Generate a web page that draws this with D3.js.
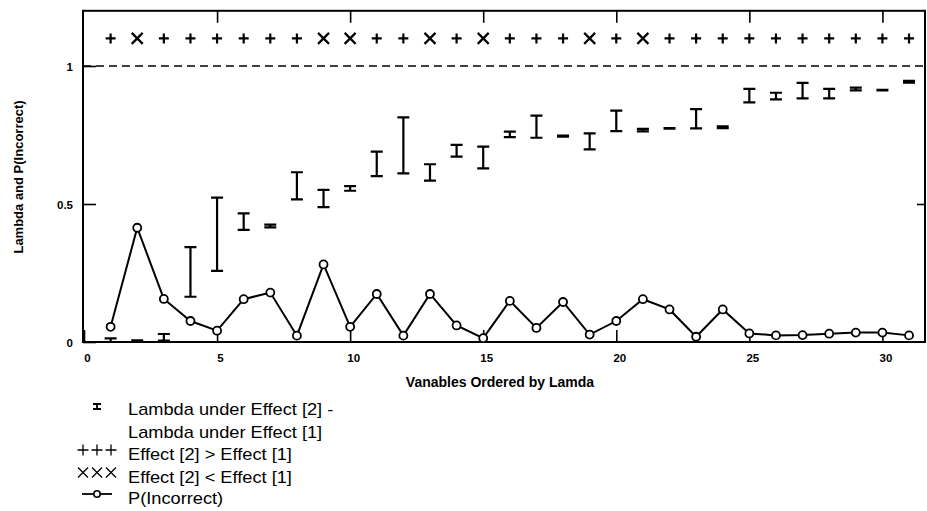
<!DOCTYPE html>
<html>
<head>
<meta charset="utf-8">
<script src="https://cdn.jsdelivr.net/npm/d3@7"></script>
<style>
  html, body { margin: 0; padding: 0; background: #fff; }
  svg { display: block; }
  text { font-family: "Liberation Sans", Arial, sans-serif; fill: #000; }
</style>
</head>
<body>
<svg id="chart" width="927" height="511"></svg>
<script>
// ---- data ----
const variables = d3.range(1, 32);
const lambdaLow  = [0.000,0.002,0.005,0.164,0.258,0.406,0.415,0.517,0.489,0.548,0.601,0.611,0.585,0.672,0.629,0.742,0.740,0.744,0.698,0.764,0.763,0.773,0.774,0.775,0.868,0.879,0.883,0.883,0.912,0.912,0.940];
const lambdaHigh = [0.013,0.006,0.029,0.344,0.523,0.466,0.425,0.615,0.551,0.565,0.690,0.814,0.644,0.714,0.708,0.762,0.820,0.748,0.756,0.838,0.772,0.775,0.844,0.781,0.917,0.903,0.939,0.917,0.922,0.914,0.946];
const pIncorrect = [0.055,0.414,0.156,0.076,0.041,0.155,0.179,0.023,0.281,0.055,0.174,0.023,0.174,0.060,0.014,0.149,0.051,0.145,0.027,0.076,0.155,0.118,0.019,0.118,0.031,0.024,0.025,0.030,0.034,0.034,0.024];
// "+" : Effect[2] > Effect[1], "x" : Effect[2] < Effect[1]
const effectSign = ["+","x","+","+","+","+","+","+","x","x","+","+","x","+","x","+","+","+","x","+","x","+","+","+","+","+","+","+","+","+","+"];
const signLevel = 1.1;
const refLevel = 1;
const xTicks = [0,5,10,15,20,25,30];
const yTicks = [0,0.5,1];
const yTickLabels = ["0","0.5","1"];
const xTitle = "Vanables Ordered by Lamda";
const yTitle = "Lambda and P(Incorrect)";
const legendLabels = [["Lambda under Effect [2] -","Lambda under Effect [1]"],["Effect [2] > Effect [1]"],["Effect [2] < Effect [1]"],["P(Incorrect)"]];

// ---- layout ----
const svg = d3.select("#chart");
const L = 83, R = 925, T = 10.8, B = 342;
const x = d3.scaleLinear().domain([0, 31.6]).range([84, 925]);
const y = d3.scaleLinear().domain([0, 1.2]).range([B, T]);

// frame
svg.append("rect").attr("x", L).attr("y", T).attr("width", R - L).attr("height", B - T)
  .attr("fill", "none").attr("stroke", "#000").attr("stroke-width", 2);

// axes ticks (inward)
const tickFmt = (d, i) => yTickLabels[i];
const gB = svg.append("g").attr("transform", `translate(0,${B})`)
  .call(d3.axisBottom(x).tickValues(xTicks).tickSize(-12).tickPadding(12).tickFormat(d3.format("d")));
const gT = svg.append("g").attr("transform", `translate(0,${T})`)
  .call(d3.axisTop(x).tickValues(xTicks.filter(d => d > 0)).tickSize(-12).tickFormat(""));
const gL = svg.append("g").attr("transform", `translate(${L},0)`)
  .call(d3.axisLeft(y).tickValues(yTicks).tickSize(-13).tickPadding(10).tickFormat(tickFmt));
const gR = svg.append("g").attr("transform", `translate(${R},0)`)
  .call(d3.axisRight(y).tickValues([0.5]).tickSize(-8).tickFormat(""));
[gB, gT, gL, gR].forEach(g => {
  g.select(".domain").remove();
  g.selectAll(".tick line").attr("stroke", "#000").attr("stroke-width", 1.6);
  g.selectAll(".tick text").attr("font-size", 11.5).attr("font-weight", "bold").attr("fill", "#000");
});
gL.selectAll(".tick text").attr("dy", "0.35em");
gB.selectAll(".tick text").attr("dx", 3);

// titles
svg.append("text").attr("x", 500).attr("y", 387).attr("text-anchor", "middle")
  .attr("font-size", 14).attr("font-weight", "bold").text(xTitle);
svg.append("text").attr("transform", "translate(23,177) rotate(-90)").attr("text-anchor", "middle")
  .attr("font-size", 13).attr("font-weight", "bold").text(yTitle);

// reference dashed line
svg.append("line").attr("x1", L).attr("x2", R).attr("y1", y(refLevel)).attr("y2", y(refLevel))
  .attr("stroke", "#000").attr("stroke-width", 1.5).attr("stroke-dasharray", "8,5");

// effect sign markers
const plusPath = s => `M${-s},0H${s}M0,${-s}V${s}`;
const crossPath = s => `M${-s},${-s}L${s},${s}M${-s},${s}L${s},${-s}`;
svg.append("g").selectAll("path").data(variables).join("path")
  .attr("transform", (d) => `translate(${x(d)},${y(signLevel)})`)
  .attr("d", (d, i) => effectSign[i] === "+" ? plusPath(5) : crossPath(5.5))
  .attr("fill", "none").attr("stroke", "#000").attr("stroke-width", 2.2);

// lambda interval bars
const cap = 6;
const gBars = svg.append("g").attr("stroke", "#000").attr("stroke-width", 2.2).attr("fill", "none");
variables.forEach((v, i) => {
  const cx = x(v), y1 = y(lambdaLow[i]), y2 = y(lambdaHigh[i]);
  gBars.append("path").attr("d", `M${cx},${y1}V${y2}M${cx - cap},${y1}H${cx + cap}M${cx - cap},${y2}H${cx + cap}`);
});

// P(Incorrect) line
const line = d3.line().x((d, i) => x(variables[i])).y(d => y(d));
svg.append("path").datum(pIncorrect).attr("d", line)
  .attr("fill", "none").attr("stroke", "#000").attr("stroke-width", 2);
svg.append("g").selectAll("circle").data(pIncorrect).join("circle")
  .attr("cx", (d, i) => x(variables[i])).attr("cy", d => y(d)).attr("r", 4)
  .attr("fill", "#fff").attr("stroke", "#000").attr("stroke-width", 1.8);

// legend
const lg = svg.append("g");
const lx = 128;
const baselines = [[415, 438], [460], [483], [504]];
legendLabels.forEach((lines, k) => {
  lines.forEach((t, j) => {
    lg.append("text").attr("transform", `translate(${lx},${baselines[k][j]}) scale(1.14,1)`)
      .attr("font-size", 16).text(t);
  });
});
// legend symbols
lg.append("path").attr("d", `M97,404V409M93,404H101M93,409H101`).attr("stroke", "#000").attr("stroke-width", 1.8).attr("fill", "none");
[83, 97, 111].forEach(cx => {
  lg.append("path").attr("transform", `translate(${cx},450)`).attr("d", plusPath(5.5))
    .attr("stroke", "#000").attr("stroke-width", 1.3).attr("fill", "none");
  lg.append("path").attr("transform", `translate(${cx},472.5)`).attr("d", crossPath(5))
    .attr("stroke", "#000").attr("stroke-width", 1.3).attr("fill", "none");
});
lg.append("line").attr("x1", 82).attr("x2", 112).attr("y1", 494).attr("y2", 494).attr("stroke", "#000").attr("stroke-width", 1.8);
lg.append("circle").attr("cx", 97).attr("cy", 494).attr("r", 3.2).attr("fill", "#fff").attr("stroke", "#000").attr("stroke-width", 1.6);
</script>
</body>
</html>
